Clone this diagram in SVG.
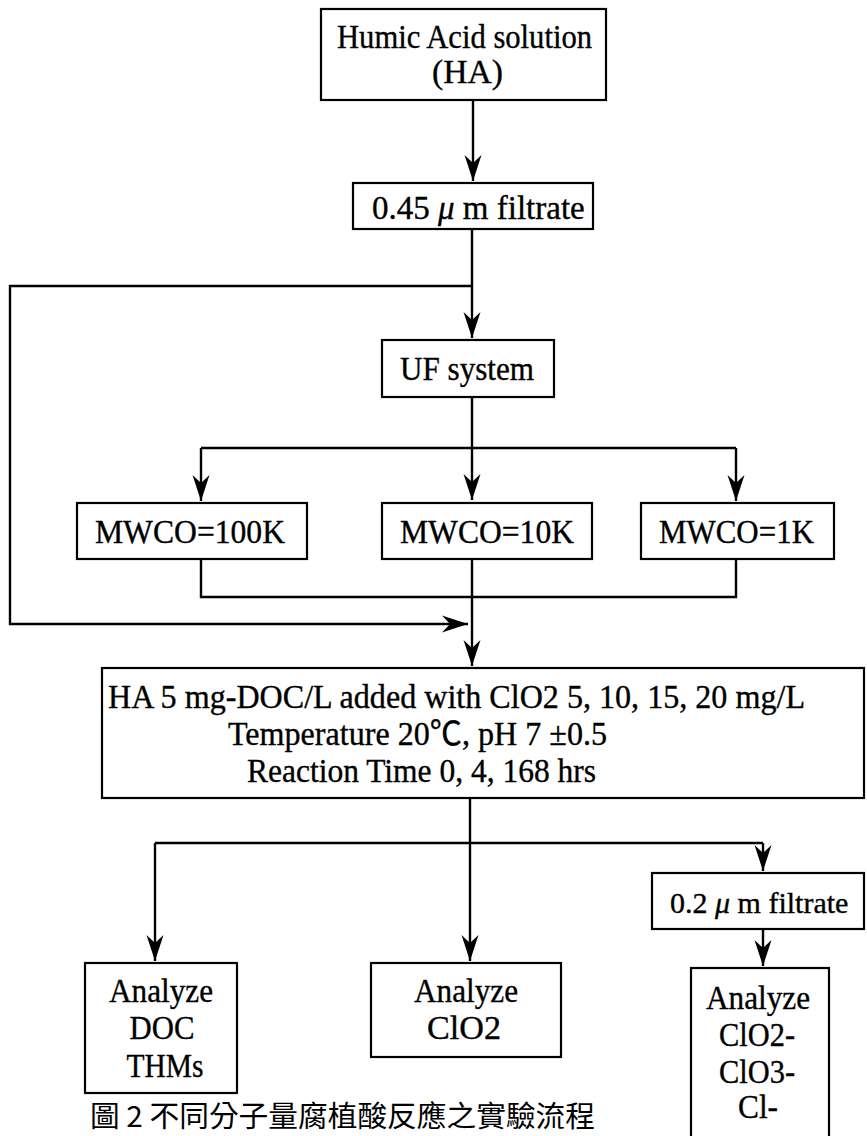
<svg xmlns="http://www.w3.org/2000/svg" width="867" height="1136" viewBox="0 0 867 1136">
<style>
.box{fill:#fff;stroke:#000;stroke-width:2.2}
.ln{fill:none;stroke:#000;stroke-width:2.4}
.t{font-family:"Liberation Serif","Times New Roman","Noto Sans CJK TC",serif;font-size:33px;fill:#000;stroke:#000;stroke-width:0.35}
.c{text-anchor:middle}
.cap{font-family:"Noto Sans CJK TC","Noto Sans CJK SC",sans-serif;font-size:29px;fill:#000}
</style>
<defs>
<marker id="ah" markerUnits="userSpaceOnUse" markerWidth="28" markerHeight="18" refX="26" refY="9" orient="auto" viewBox="0 0 28 18">
<path d="M26,9 L0,0.5 L8,9 L0,17.5 Z" fill="#000"/>
</marker>
</defs>
<g id="connectors">
<path class="ln" d="M473,100 V181" marker-end="url(#ah)"/>
<path class="ln" d="M472,229 V338" marker-end="url(#ah)"/>
<path class="ln" d="M472,286 H10 V624 H468" marker-end="url(#ah)"/>
<path class="ln" d="M472,397 V500" marker-end="url(#ah)"/>
<path class="ln" d="M201,448 H736"/>
<path class="ln" d="M201,448 V501" marker-end="url(#ah)"/>
<path class="ln" d="M736,448 V501" marker-end="url(#ah)"/>
<path class="ln" d="M201,559 V597 H736 V559"/>
<path class="ln" d="M472,559 V666" marker-end="url(#ah)"/>
<path class="ln" d="M470,798 V961" marker-end="url(#ah)"/>
<path class="ln" d="M155,843 H763"/>
<path class="ln" d="M155,843 V961" marker-end="url(#ah)"/>
<path class="ln" d="M763,843 V871" marker-end="url(#ah)"/>
<path class="ln" d="M763,929 V966" marker-end="url(#ah)"/>
</g>
<g id="n-ha">
<rect class="box" x="321" y="9" width="285" height="91"/>
<text class="t" x="337" y="48" textLength="255" lengthAdjust="spacingAndGlyphs">Humic Acid solution</text>
<text class="t" x="432" y="83" textLength="71" lengthAdjust="spacingAndGlyphs">(HA)</text>
</g>
<g id="n-filt045">
<rect class="box" x="353" y="183" width="240" height="46"/>
<text class="t" x="372" y="219">0.45 <tspan font-style="italic">μ</tspan> m filtrate</text>
</g>
<g id="n-uf">
<rect class="box" x="382" y="340" width="172" height="57"/>
<text class="t" x="400" y="380" textLength="134" lengthAdjust="spacingAndGlyphs">UF system</text>
</g>
<g id="n-m100k">
<rect class="box" x="77" y="503" width="230" height="56"/>
<text class="t" x="95" y="543" textLength="190" lengthAdjust="spacingAndGlyphs">MWCO=100K</text>
</g>
<g id="n-m10k">
<rect class="box" x="382" y="503" width="210" height="56"/>
<text class="t" x="400" y="543" textLength="174" lengthAdjust="spacingAndGlyphs">MWCO=10K</text>
</g>
<g id="n-m1k">
<rect class="box" x="641" y="503" width="193" height="56"/>
<text class="t" x="659" y="543" textLength="155" lengthAdjust="spacingAndGlyphs">MWCO=1K</text>
</g>
<g id="n-reaction">
<rect class="box" x="102" y="668" width="762" height="130"/>
<text class="t" x="108" y="708" textLength="697" lengthAdjust="spacingAndGlyphs">HA 5 mg-DOC/L added with ClO2 5, 10, 15, 20 mg/L</text>
<text class="t" x="228" y="745" textLength="379" lengthAdjust="spacingAndGlyphs">Temperature 20℃, pH 7 ±0.5</text>
<text class="t" x="247" y="782" textLength="349" lengthAdjust="spacingAndGlyphs">Reaction Time 0, 4, 168 hrs</text>
</g>
<g id="n-filt02">
<rect class="box" x="652" y="873" width="212" height="56"/>
<text class="t" x="670" y="913" style="font-size:30px">0.2 <tspan font-style="italic">μ</tspan> m filtrate</text>
</g>
<g id="n-doc">
<rect class="box" x="85" y="963" width="152" height="130"/>
<text class="t c" x="161" y="1002" textLength="104" lengthAdjust="spacingAndGlyphs">Analyze</text>
<text class="t c" x="162" y="1039" textLength="65" lengthAdjust="spacingAndGlyphs">DOC</text>
<text class="t c" x="165" y="1077" textLength="77" lengthAdjust="spacingAndGlyphs">THMs</text>
</g>
<g id="n-clo2">
<rect class="box" x="371" y="963" width="190" height="94"/>
<text class="t c" x="466" y="1002" textLength="104" lengthAdjust="spacingAndGlyphs">Analyze</text>
<text class="t c" x="464" y="1039" textLength="74" lengthAdjust="spacingAndGlyphs">ClO2</text>
</g>
<g id="n-ions">
<rect class="box" x="691" y="968" width="138" height="180"/>
<text class="t c" x="758" y="1009" textLength="104" lengthAdjust="spacingAndGlyphs">Analyze</text>
<text class="t c" x="757" y="1046" textLength="76" lengthAdjust="spacingAndGlyphs">ClO2-</text>
<text class="t c" x="757" y="1083" textLength="76" lengthAdjust="spacingAndGlyphs">ClO3-</text>
<text class="t c" x="758" y="1118" textLength="40" lengthAdjust="spacingAndGlyphs">Cl-</text>
</g>
<text class="cap" x="90" y="1127" textLength="505" lengthAdjust="spacingAndGlyphs">圖 2 不同分子量腐植酸反應之實驗流程</text>
</svg>
